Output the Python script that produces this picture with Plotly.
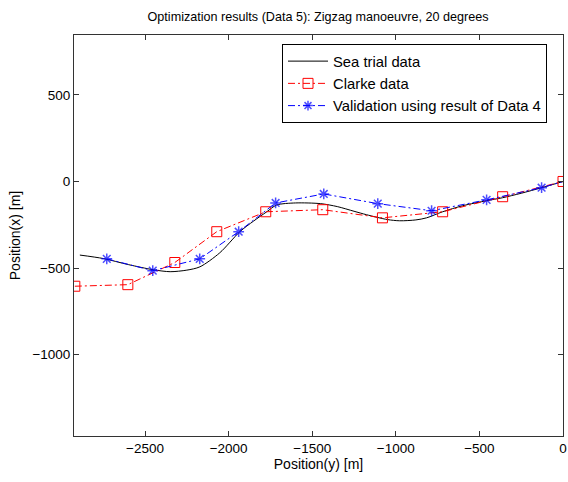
import plotly.graph_objects as go

# Sea trial data (smooth track)
sea_y = [-2890, -2750, -2600, -2450, -2350, -2250, -2172, -2053, -1933, -1850, -1772,
         -1713, -1600, -1450, -1350, -1250, -1175, -1050, -977, -880, -816, -720,
         -600, -457, -362, -250, -128, 0]
sea_x = [-425, -445, -480, -510, -521, -512, -493, -412, -290, -228, -175,
         -136, -124, -128, -145, -172, -192, -220, -227, -222, -210, -175,
         -140, -111, -94, -68, -36, 0]

# Clarke data
clarke_y = [-2920, -2603, -2322, -2071, -1778, -1437, -1080, -720, -361, 0]
clarke_x = [-605, -596, -468, -290, -175, -163, -210, -175, -88, 0]

# Validation using result of Data 4
val_y = [-2729, -2454, -2173, -1940, -1719, -1431, -1108, -786, -457, -128, 0]
val_x = [-447, -515, -447, -290, -124, -72, -128, -169, -106, -36, 0]

x_ticks = [-2500, -2000, -1500, -1000, -500, 0]
y_ticks = [500, 0, -500, -1000]

font = "Liberation Sans, Arial, Helvetica, sans-serif"
dashdot = "7px,3px,2px,3px"

fig = go.Figure()
fig.add_trace(go.Scatter(
    x=sea_y, y=sea_x, mode="lines", name="Sea trial data",
    line=dict(color="black", width=1, shape="spline", smoothing=0.8)))
fig.add_trace(go.Scatter(
    x=clarke_y, y=clarke_x, mode="lines+markers", name="Clarke data",
    line=dict(color="#ff0000", width=1, dash=dashdot),
    marker=dict(symbol="square-open", size=10, color="#ff0000",
                line=dict(color="#ff0000", width=1))))
val_sizes = [9] * (len(val_y) - 1) + [0]
fig.add_trace(go.Scatter(
    x=val_y, y=val_x, mode="lines+markers", name="Validation using result of Data 4",
    line=dict(color="#0000ff", width=1, dash=dashdot),
    marker=dict(symbol="asterisk-open", size=val_sizes, color="#0000ff",
                line=dict(color="#0000ff", width=1.5))))

axis_common = dict(
    showgrid=False, zeroline=False, showline=True, linecolor="#333333", linewidth=1,
    mirror="ticks", ticks="inside", ticklen=5, tickcolor="#333333",
    automargin=False, ticklabeloverflow="allow",
    tickfont=dict(family=font, size=13.5, color="black"))

fig.update_layout(
    width=568, height=482,
    margin=dict(l=74, r=5, t=35, b=46),
    paper_bgcolor="white", plot_bgcolor="white",
    font=dict(family=font, size=12, color="black"),
    title=dict(text="Optimization results (Data 5): Zigzag manoeuvre, 20 degrees",
               x=318 / 568, xanchor="center", y=1 - 17 / 482, yanchor="middle",
               font=dict(family=font, size=12.6, color="black")),
    xaxis=dict(range=[-2925, 0], tickvals=x_ticks,
               title=dict(text="Position(y) [m]", standoff=2,
                          font=dict(family=font, size=14, color="black")),
               **axis_common),
    yaxis=dict(range=[-1470, 846], tickvals=y_ticks,
               title=dict(text="Position(x) [m]", standoff=8,
                          font=dict(family=font, size=14, color="black")),
               **axis_common),
    legend=dict(x=(282 - 74) / 489, y=(436 - 44) / 401, xanchor="left", yanchor="top",
                bgcolor="white", bordercolor="black", borderwidth=1,
                font=dict(family=font, size=14.8, color="black"),
                itemwidth=40, tracegroupgap=0),
    showlegend=True,
)

fig.write_html("out.html", config={"displayModeBar": False},
               post_script="document.body.style.margin='0';")
